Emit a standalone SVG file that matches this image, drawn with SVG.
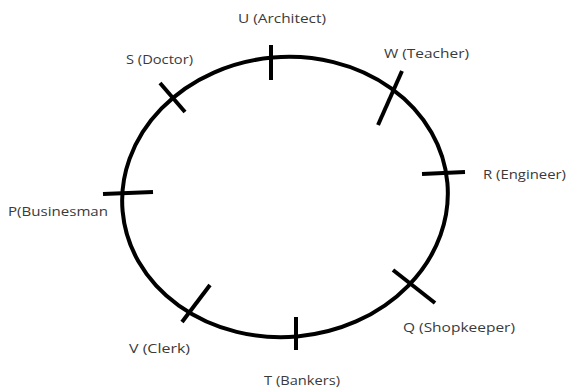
<svg xmlns="http://www.w3.org/2000/svg" width="571" height="391" viewBox="0 0 571 391">
<style>
.c{fill:none;stroke:#000;stroke-width:4}
.t{stroke:#000;stroke-width:4;stroke-linecap:butt}
text{font-family:"Open Sans","Liberation Sans",sans-serif;font-size:13px;fill:#3a3a3a}
</style>
<rect width="571" height="391" fill="#fff"/>
<g id="circle"><ellipse class="c" cx="285" cy="197" rx="163" ry="140" transform="rotate(-5 285 197)"/></g>
<g id="connectors"></g>
<g id="U"><line class="t" x1="271" y1="45" x2="271" y2="80"/><text x="238" y="23" textLength="88" lengthAdjust="spacingAndGlyphs">U (Architect)</text></g>
<g id="S"><line class="t" x1="160" y1="83" x2="185" y2="112"/><text x="126" y="64" textLength="67" lengthAdjust="spacingAndGlyphs">S (Doctor)</text></g>
<g id="W"><line class="t" x1="402" y1="71" x2="378" y2="125"/><text x="384" y="58" textLength="85" lengthAdjust="spacingAndGlyphs">W (Teacher)</text></g>
<g id="R"><line class="t" x1="422" y1="174" x2="465" y2="172"/><text x="483" y="179" textLength="83" lengthAdjust="spacingAndGlyphs">R (Engineer)</text></g>
<g id="P"><line class="t" x1="103" y1="194" x2="153" y2="192"/><text x="8" y="216" textLength="100" lengthAdjust="spacingAndGlyphs">P(Businesman</text></g>
<g id="Q"><line class="t" x1="393" y1="270" x2="435" y2="303"/><text x="403" y="332" textLength="112" lengthAdjust="spacingAndGlyphs">Q (Shopkeeper)</text></g>
<g id="T"><line class="t" x1="296" y1="317" x2="296" y2="350"/><text x="264" y="385" textLength="76" lengthAdjust="spacingAndGlyphs">T (Bankers)</text></g>
<g id="V"><line class="t" x1="210" y1="285" x2="182" y2="322"/><text x="129" y="353" textLength="61" lengthAdjust="spacingAndGlyphs">V (Clerk)</text></g>
</svg>
